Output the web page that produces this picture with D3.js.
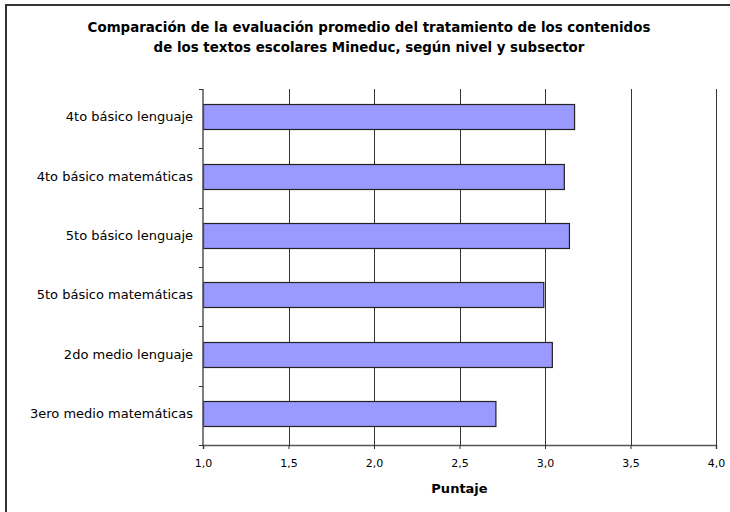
<!DOCTYPE html>
<html>
<head>
<meta charset="utf-8">
<script src="https://cdn.jsdelivr.net/npm/d3@7"></script>
<style>
  body { margin: 0; background: #fff; }
  text { font-family: "DejaVu Sans", Verdana, sans-serif; fill: #000; }
</style>
</head>
<body>
<script>
var categories = ["4to básico lenguaje", "4to básico matemáticas", "5to básico lenguaje",
                  "5to básico matemáticas", "2do medio lenguaje", "3ero medio matemáticas"];
var values = [3.17, 3.11, 3.14, 2.99, 3.04, 2.71];
var xTicks = [1.0, 1.5, 2.0, 2.5, 3.0, 3.5, 4.0];
var titleLines = ["Comparación de la evaluación promedio del tratamiento de los contenidos",
                  "de los textos escolares Mineduc, según nivel y subsector"];
var xTitle = "Puntaje";

var W = 730, H = 512;
var plotLeft = 203, plotRight = 716, plotTop = 89, plotBottom = 445;

var svg = d3.select("body").append("svg")
  .attr("width", W)
  .attr("height", H);

// outer frame (runs off the right/bottom edge like the original)
svg.append("rect")
  .attr("x", 6).attr("y", 5)
  .attr("width", W + 10).attr("height", H + 10)
  .attr("fill", "none")
  .attr("stroke", "#333")
  .attr("stroke-width", 2);

var x = d3.scaleLinear().domain([1, 4]).range([plotLeft, plotRight]);
var y = d3.scaleBand().domain(categories).range([plotTop, plotBottom]).paddingInner(0.58).paddingOuter(0.29);

// gridlines
svg.selectAll(".grid")
  .data(xTicks.slice(1))
  .enter().append("line")
  .attr("x1", function(d) { return Math.round(x(d)) + 0.5; })
  .attr("x2", function(d) { return Math.round(x(d)) + 0.5; })
  .attr("y1", plotTop)
  .attr("y2", plotBottom)
  .attr("stroke", "#333")
  .attr("stroke-width", 1);

// bars
svg.selectAll(".bar")
  .data(values)
  .enter().append("rect")
  .attr("x", x(1) + 0.5)
  .attr("y", function(d, i) { return Math.round(y(categories[i]) - 2) + 0.5; })
  .attr("width", function(d) { return x(d) - x(1); })
  .attr("height", Math.round(y.bandwidth()))
  .attr("fill", "#9999ff")
  .attr("stroke", "#222")
  .attr("stroke-width", 1.2);

// x axis
var xAxis = d3.axisBottom(x)
  .tickValues(xTicks)
  .tickSize(4)
  .tickFormat(function(d) { return d3.format(".1f")(d).replace(".", ","); });

var gx = svg.append("g")
  .attr("transform", "translate(0," + plotBottom + ")")
  .call(xAxis);
gx.select(".domain").attr("stroke", "#555").attr("stroke-width", 1.5);
gx.selectAll(".tick line").attr("stroke", "#333");
gx.selectAll(".tick text")
  .attr("y", 14)
  .attr("font-size", "11px")
  .style("font-family", "DejaVu Sans, sans-serif");

// y axis: ticks sit on category boundaries
var bounds = d3.range(categories.length + 1).map(function(i) {
  return plotTop + i * (plotBottom - plotTop) / categories.length;
});
svg.append("line")
  .attr("x1", plotLeft).attr("x2", plotLeft)
  .attr("y1", plotTop).attr("y2", plotBottom)
  .attr("stroke", "#555").attr("stroke-width", 1.5);
svg.selectAll(".ytick")
  .data(bounds)
  .enter().append("line")
  .attr("x1", plotLeft - 4).attr("x2", plotLeft)
  .attr("y1", function(d) { return Math.round(d) + 0.5; })
  .attr("y2", function(d) { return Math.round(d) + 0.5; })
  .attr("stroke", "#333");

svg.selectAll(".ylab")
  .data(categories)
  .enter().append("text")
  .attr("x", 193)
  .attr("y", function(d) { return y(d) + y.bandwidth() / 2 - 2; })
  .attr("dy", "0.35em")
  .attr("text-anchor", "end")
  .attr("font-size", "13px")
  .text(function(d) { return d; });

// titles
svg.selectAll(".title")
  .data(titleLines)
  .enter().append("text")
  .attr("x", 369)
  .attr("y", function(d, i) { return 32 + i * 20; })
  .attr("text-anchor", "middle")
  .attr("font-size", "13.4px")
  .attr("font-weight", "bold")
  .text(function(d) { return d; });

svg.append("text")
  .attr("x", x(2.5))
  .attr("y", 493)
  .attr("text-anchor", "middle")
  .attr("font-size", "13px")
  .attr("font-weight", "bold")
  .text(xTitle);
</script>
</body>
</html>
